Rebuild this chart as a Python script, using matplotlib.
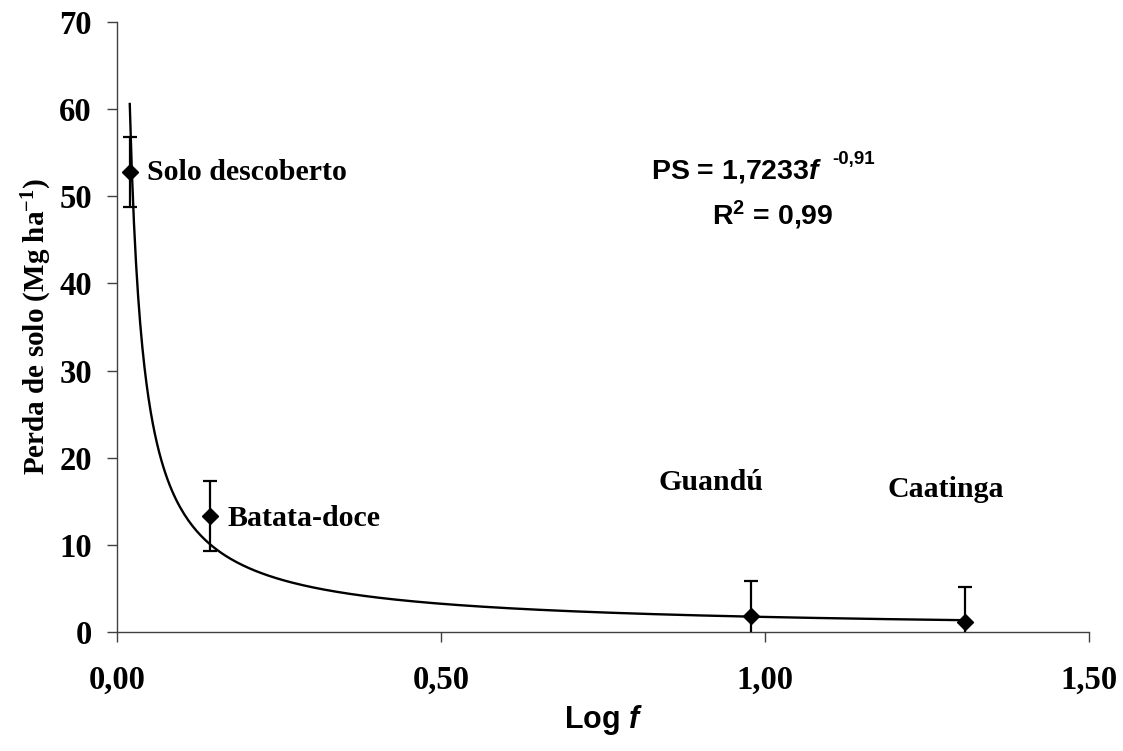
import numpy as np
import matplotlib
matplotlib.use("Agg")
from matplotlib import pyplot as plt

# dados
tratamentos = ["Solo descoberto", "Batata-doce", "Guandú", "Caatinga"]
log_f = [0.02, 0.143, 0.978, 1.308]
perda = [52.8, 13.3, 1.8, 1.2]
erro = [4.0, 4.0, 4.0, 4.0]

# posicao dos rotulos (x, y em unidades dos eixos)
rot_x = [0.047, 0.170, 0.836, 1.188]
rot_y = [52.7, 13.0, 17.2, 16.4]

# ajuste potencial PS = a * f^b
coef_a = 1.7233
coef_b = -0.91

plt.rcParams['mathtext.fontset'] = 'custom'
plt.rcParams['mathtext.it'] = 'Liberation Sans:italic:bold'
plt.rcParams['mathtext.rm'] = 'Liberation Sans:bold'

serif = {'family': 'Liberation Serif', 'weight': 'bold'}
sans = {'family': 'Liberation Sans', 'weight': 'bold'}

fig = plt.figure(figsize=(11.23, 7.51), dpi=100)
ax = fig.add_axes([0.104, 0.1585, 0.866, 0.8122])

xs = np.linspace(log_f[0], log_f[-1], 400)
ax.plot(xs, coef_a * xs ** coef_b, '-', color='k', lw=1.7)

ax.errorbar(log_f, perda, yerr=erro, fmt='D', color='k', ms=8,
            elinewidth=1.6, capsize=5, capthick=1.6, zorder=3)

for nome, x, y in zip(tratamentos, rot_x, rot_y):
    ax.text(x, y, nome, fontsize=21.5, va='center', ha='left', **serif)

# equacao do ajuste
eq = ax.text(1.088, 52.9, r"PS = 1,7233$\it{f}$", fontsize=20.5,
             ha='right', va='center', **sans)
ax.annotate("-0,91", xy=(1, 0.62), xycoords=eq, xytext=(7, 0),
            textcoords='offset points', fontsize=13.5, va='bottom',
            ha='left', **sans)
ax.text(1.012, 47.8, r"R$\mathregular{^2}$ = 0,99", fontsize=20.5,
        ha='center', va='center', **sans)

ax.set_xlim(0, 1.5)
ax.set_ylim(0, 70)
ax.set_xticks([0, 0.5, 1.0, 1.5])
ax.set_xticklabels(["0,00", "0,50", "1,00", "1,50"])
ax.set_yticks(range(0, 71, 10))

for s in ['top', 'right']:
    ax.spines[s].set_visible(False)
for s in ['left', 'bottom']:
    ax.spines[s].set_color('#404040')
    ax.spines[s].set_linewidth(1.0)

ax.tick_params(direction='out', length=7.5, width=1.0, color='#404040')
ax.tick_params(axis='x', pad=16)
ax.tick_params(axis='y', pad=10.5)
for lab in ax.get_xticklabels() + ax.get_yticklabels():
    lab.set_fontfamily('Liberation Serif')
    lab.set_fontweight('bold')
    lab.set_fontsize(23.5)

ax.set_xlabel(r"Log $\it{f}$", fontsize=22, labelpad=5, **sans)
ax.set_ylabel(r"Perda de solo (Mg ha$\mathregular{^{-1}}$)", fontsize=21,
              labelpad=4, **serif)

plt.savefig("out.png", dpi=100)
